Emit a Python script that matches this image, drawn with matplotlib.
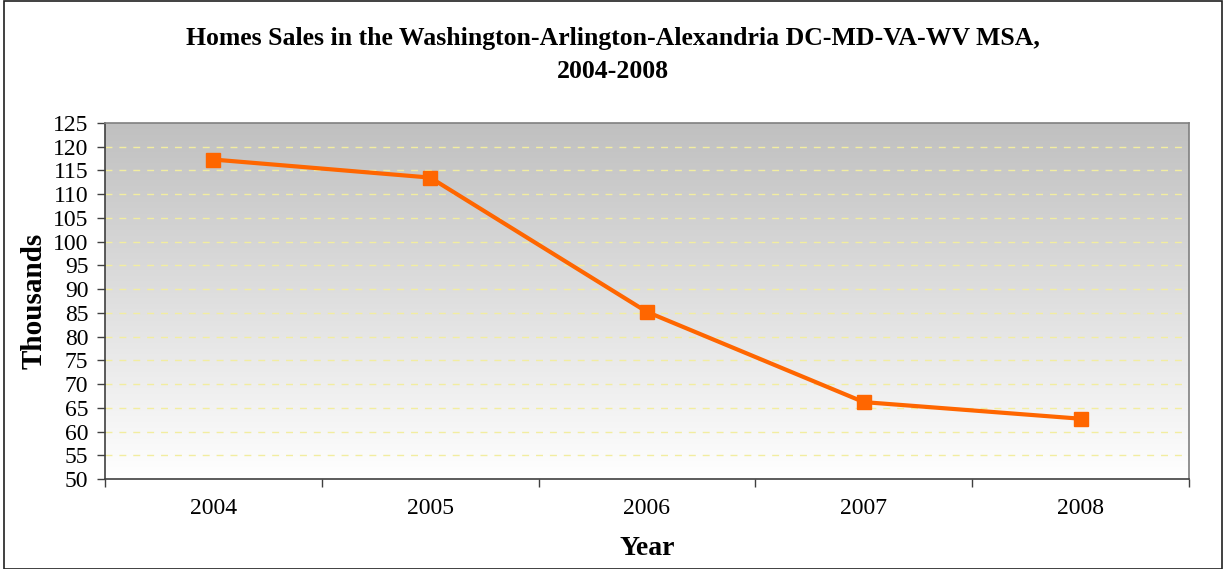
import numpy as np
import matplotlib.pyplot as plt
from matplotlib.colors import LinearSegmentedColormap
from matplotlib.patches import Rectangle

plt.rcParams['font.family'] = ['Liberation Serif', 'DejaVu Serif']

# Chart data
years = ['2004', '2005', '2006', '2007', '2008']
sales = [117.3, 113.5, 85.2, 66.2, 62.7]  # thousands

fig = plt.figure(figsize=(12.25, 5.69), dpi=100)
ax = fig.add_axes([105 / 1225, 1 - 479 / 569, 1084 / 1225, 356 / 569])

x = np.arange(len(years))
ax.set_xlim(-0.5, len(years) - 0.5)
ax.set_ylim(50, 125)

# gray-to-white gradient background
grad = np.linspace(0, 1, 256).reshape(-1, 1)
ax.imshow(grad, cmap=LinearSegmentedColormap.from_list('g', ['#ffffff', '#c0c0c0']),
          aspect='auto', origin='lower',
          extent=[-0.5, len(years) - 0.5, 50, 125], zorder=0)

# dashed light yellow gridlines
for yv in range(55, 125, 5):
    ax.axhline(yv, color='#f2eda0', lw=1, dashes=(5, 5), zorder=1)

ax.plot(x, sales, color='#ff6600', lw=3, marker='s', markersize=10,
        markeredgecolor='#ff6600', zorder=3)

ax.set_yticks(range(50, 126, 5))
ax.set_yticklabels([str(v) for v in range(50, 126, 5)], fontsize=17)
ax.set_xticks(x)
ax.set_xticklabels(years, fontsize=17)
ax.set_xticks(np.arange(-0.5, len(years), 1), minor=True)
ax.tick_params(axis='x', which='major', length=0, pad=14)
ax.tick_params(axis='x', which='minor', length=6, width=1, color='#404040', direction='out')
ax.tick_params(axis='y', length=6, width=1, color='#404040', direction='out', pad=6)

for side in ['left', 'bottom']:
    ax.spines[side].set_color('#404040')
    ax.spines[side].set_linewidth(1.2)
for side in ['top', 'right']:
    ax.spines[side].set_color('#808080')
    ax.spines[side].set_linewidth(1.2)

ax.set_xlabel('Year', fontsize=20, fontweight='bold', labelpad=12)
ax.set_ylabel('Thousands', fontsize=21, fontweight='bold', labelpad=4)

fig.text(0.5, 1 - 55 / 569, 'Homes Sales in the Washington-Arlington-Alexandria DC-MD-VA-WV MSA,\n2004-2008',
         ha='center', va='center', fontsize=18.5, fontweight='bold', linespacing=1.5)

# outer border of the chart
fig.patches.append(Rectangle((4 / 1225, 0), 1 - 7 / 1225, 1 - 1 / 569,
                             transform=fig.transFigure, fill=False,
                             edgecolor='#202020', lw=1.2))

fig.savefig('out.png', dpi=100)
